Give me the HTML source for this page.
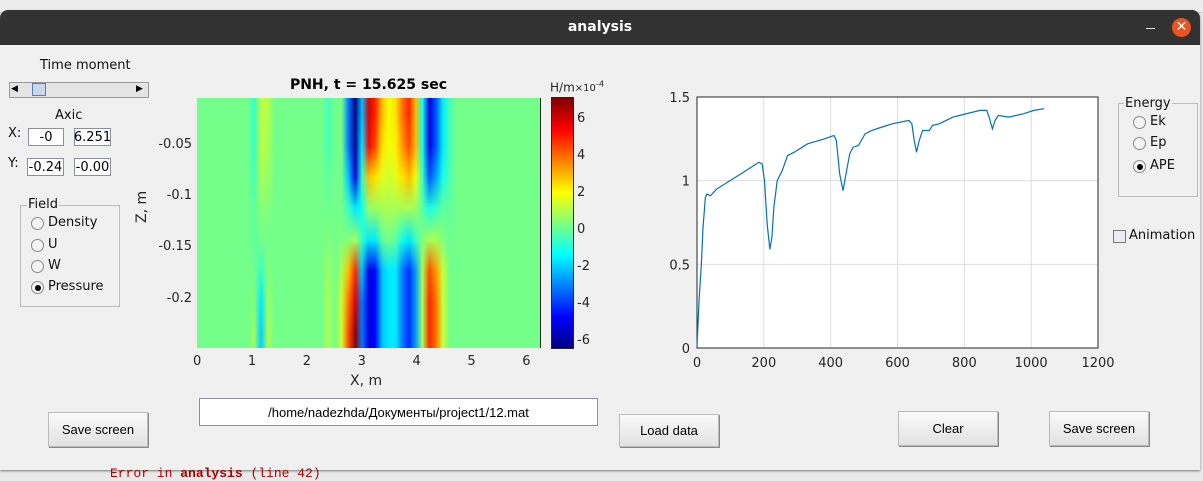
<!DOCTYPE html>
<html><head><meta charset="utf-8">
<style>
body{margin:0;width:1203px;height:476px;overflow:hidden;background:#e9e9e9;font-family:"DejaVu Sans","Liberation Sans",sans-serif;position:relative}
.a{position:absolute}
.t{font-size:13px;color:#111;white-space:nowrap}
.btn{position:absolute;background:linear-gradient(#fafafa,#e2e2e2);border:1px solid #bbb;box-shadow:1px 1px 0 #888;font-size:13px;display:flex;align-items:center;justify-content:center;font-family:"Liberation Sans",sans-serif}
.edit{position:absolute;background:#fff;border:1px solid #8a8ea8;font-size:13px;display:flex;align-items:center;justify-content:center;box-sizing:border-box}
.radio{position:absolute;width:11px;height:11px;border:1px solid #888;border-radius:50%;background:#f4f4f4}
.radio.on::after{content:"";position:absolute;left:2.5px;top:2.5px;width:6px;height:6px;border-radius:50%;background:#000}
.tick{font-size:13px;color:#262626;position:absolute;white-space:nowrap}
</style></head><body>
<div class="a" style="left:0;top:0;width:1203px;height:12px;background:#ececec;border-bottom:1px solid #ccc"></div>
<div class="a" style="left:0;top:10px;width:1200px;height:460px;background:#f0f0f0;border-radius:8px 8px 0 0;overflow:hidden;box-shadow:0 1px 2px #777">
 <div class="a" style="left:0;top:0;width:1200px;height:35px;background:#323232"></div>
 <div class="a" style="left:0;top:9px;width:1200px;text-align:center;color:#fff;font-weight:bold;font-size:14px">analysis</div>
 <div class="a" style="left:1146px;top:18px;width:9px;height:1px;background:#ddd"></div>
 <div class="a" style="left:1172px;top:8px;width:19px;height:19px;border-radius:50%;background:#e95420;color:#fff;font-size:14px;line-height:19px;text-align:center">✕</div>
</div>
<div class="a" style="left:110px;top:466px;color:#a00;font-family:'Liberation Mono',monospace;font-size:13px">Error in <b>analysis</b> (line 42)</div>

<div class="a t" style="left:40px;top:58px">Time moment</div>
<div class="a" style="left:9px;top:82px;width:138px;height:14px;background:#e4e4e4;border:1px solid #999">
 <div class="a" style="left:1px;top:1px;width:10px;height:10px;font-size:9px;line-height:10px">◀</div>
 <div class="a" style="left:22px;top:0;width:14px;height:13px;background:#c9d6ee;border:1px solid #5a7bbd;box-sizing:border-box"></div>
 <div class="a" style="left:126px;top:1px;width:10px;height:10px;font-size:9px;line-height:10px">▶</div>
</div>
<div class="a t" style="left:55px;top:108px">Axic</div>
<div class="a t" style="left:8px;top:126px">X:</div>
<div class="edit" style="left:28px;top:128px;width:36px;height:18px">-0</div>
<div class="edit" style="left:74px;top:128px;width:37px;height:18px">6.251</div>
<div class="a t" style="left:8px;top:156px">Y:</div>
<div class="edit" style="left:27px;top:158px;width:37px;height:18px">-0.24</div>
<div class="edit" style="left:74px;top:158px;width:37px;height:18px">-0.00</div>
<div class="a" style="left:20px;top:205px;width:98px;height:100px;border:1px solid #bbb"></div>
<div class="a t" style="left:27px;top:197px;background:#f0f0f0;padding:0 1px">Field</div>
<div class="radio" style="left:31px;top:217px"></div><div class="a t" style="left:48px;top:215px">Density</div>
<div class="radio" style="left:31px;top:239px"></div><div class="a t" style="left:48px;top:237px">U</div>
<div class="radio" style="left:31px;top:260px"></div><div class="a t" style="left:48px;top:258px">W</div>
<div class="radio on" style="left:31px;top:281px"></div><div class="a t" style="left:48px;top:279px">Pressure</div>

<div class="a" style="left:197px;top:77px;width:343px;text-align:center;font-weight:bold;font-size:14px;color:#000">PNH, t = 15.625 sec</div>
<canvas id="hm" class="a" width="343" height="250" style="left:197px;top:98px"></canvas>
<div class="a" style="left:540px;top:98px;width:1px;height:250px;background:#262626"></div>
<div id="hmticks"></div>
<div class="a" style="left:350px;top:373px;font-size:14px;color:#262626">X, m</div>
<div class="a" style="left:134px;top:223px;font-size:14px;color:#262626;transform:rotate(-90deg);transform-origin:left top;white-space:nowrap">Z, m</div>
<canvas id="cb" class="a" width="21" height="250" style="left:552px;top:98px;outline:1px solid #262626"></canvas>
<div class="a" style="left:550px;top:79px;font-size:12px;color:#262626">H/m<span style="font-size:10px">×10<sup>-4</sup></span></div>
<div id="cbticks"></div>

<svg class="a" id="ch" style="left:640px;top:85px" width="480" height="290"></svg>

<div class="a" style="left:1118px;top:103px;width:78px;height:92px;border:1px solid #bbb"></div>
<div class="a t" style="left:1124px;top:96px;background:#f0f0f0;padding:0 1px">Energy</div>
<div class="radio" style="left:1133px;top:116px"></div><div class="a t" style="left:1150px;top:114px">Ek</div>
<div class="radio" style="left:1133px;top:137px"></div><div class="a t" style="left:1150px;top:135px">Ep</div>
<div class="radio on" style="left:1133px;top:160px"></div><div class="a t" style="left:1150px;top:158px">APE</div>
<div class="a" style="left:1113px;top:230px;width:11px;height:11px;border:1px solid #777;background:#ebebf3"></div>
<div class="a t" style="left:1129px;top:228px">Animation</div>

<div class="btn" style="left:48px;top:412px;width:98px;height:33px">Save screen</div>
<div class="edit" style="left:199px;top:398px;width:399px;height:28px;font-family:'Liberation Sans',sans-serif">/home/nadezhda/Документы/project1/12.mat</div>
<div class="btn" style="left:619px;top:414px;width:98px;height:31px">Load data</div>
<div class="btn" style="left:898px;top:411px;width:98px;height:33px">Clear</div>
<div class="btn" style="left:1049px;top:411px;width:98px;height:33px">Save screen</div>

<script>
// ---- heatmap data ----
const hmXTicks=[0,1,2,3,4,5,6];
const hmZTicks=[-0.05,-0.1,-0.15,-0.2];
const cbTicks=[6,4,2,0,-2,-4,-6];
const hmBase=0.3;
const hmCols=[8,9,10,19,21,22,23,24,25,26,27,28,29,30,31,32,33,34,35,36,37];
const hmColValues=[
[-0.5,-0.5,-0.3,0,0,0.3,0.5,0.8],
[1.2,1.2,1,0.6,0.3,-0.5,-1.5,-1.8],
[1.2,1,0.8,0.5,0.3,0.5,0.8,1],
[-0.3,-0.3,0,0.2,0.5,0.8,1,1],
[0.3,0.3,0.3,0.3,0.5,1,1.5,1.5],
[-3,-3,-2,-0.5,0.5,3,4,4.5],
[-6.3,-6,-5,-1.5,1,5,6,7],
[-2,-1.5,-0.5,-1,-0.5,-2,-3,-3],
[6,5.5,3,0.8,-1.5,-5,-5,-5],
[5,4.5,2.5,0.8,-1.5,-4.5,-4.5,-4.5],
[3,2.5,1.8,1,0,-2,-2,-2],
[2,2,1.5,1,0.3,-1.5,-1.5,-1.5],
[2.5,2.3,1.8,1,0,-1.5,-1.5,-1.5],
[4,3.5,2.5,1,-1,-3,-3,-3],
[5,4.5,3,1,-1.5,-4,-4,-4],
[3,3,2,0.8,-0.5,-2.5,-2.5,-2.5],
[-1,-1,-0.5,0,0.5,1,1,1],
[-5,-5,-3.5,-1,1,4.5,5,5],
[-3.5,-3.5,-2.5,-0.5,1,3.5,4,4],
[-1.5,-1.5,-1,0,0.5,1.5,1.5,1.5],
[-0.3,-0.3,-0.2,0,0.2,0.3,0.3,0.3]];
const NC=51,NR=8,VMIN=-6.3,VMAX=7.2;
// ---- energy data ----
const eX=[0,6,13,18,25,30,40,59,99,139,185,195,202,210,218,224,230,240,255,271,291,331,382,410,417,427,437,444,457,467,483,503,523,553,584,634,643,650,657,665,675,695,705,725,766,806,847,867,874,884,892,902,933,978,1008,1039];
const eY=[0.01,0.28,0.5,0.72,0.9,0.92,0.91,0.95,1.0,1.05,1.11,1.10,1.0,0.74,0.59,0.66,0.84,1.0,1.06,1.15,1.17,1.22,1.25,1.27,1.24,1.04,0.94,1.02,1.16,1.2,1.21,1.28,1.30,1.32,1.34,1.36,1.34,1.24,1.17,1.24,1.30,1.30,1.33,1.34,1.38,1.40,1.42,1.42,1.38,1.31,1.36,1.39,1.38,1.40,1.42,1.43];
const eXTicks=[0,200,400,600,800,1000,1200];
const eYTicks=[0,0.5,1,1.5];

function jet(t){t=Math.max(0,Math.min(1,t));
 const f=x=>Math.max(0,Math.min(1,1.5-Math.abs(4*t-x)));
 return [f(3),f(2),f(1)].map(v=>Math.round(v*255));}
// heatmap
const hx=m=>197+m/6.25*343, hz=z=>98+(z+0.0035)/(-0.247+0.0035)*250;
const small=document.createElement('canvas');small.width=NC;small.height=NR;
const sc=small.getContext('2d');const img=sc.createImageData(NC,NR);
for(let c=0;c<NC;c++){const k=hmCols.indexOf(c);
 for(let r=0;r<NR;r++){const v=k>=0?hmColValues[k][r]:hmBase;
  const col=jet((v-VMIN)/(VMAX-VMIN));const i=(r*NC+c)*4;
  img.data[i]=col[0];img.data[i+1]=col[1];img.data[i+2]=col[2];img.data[i+3]=255;}}
sc.putImageData(img,0,0);
const hc=document.getElementById('hm').getContext('2d');hc.imageSmoothingEnabled=true;
hc.drawImage(small,0,0,343,250);
const cb=document.getElementById('cb').getContext('2d');
for(let y=0;y<250;y++){const v=VMAX-(y/250)*(VMAX-VMIN);const c=jet((v-VMIN)/(VMAX-VMIN));cb.fillStyle=`rgb(${c})`;cb.fillRect(0,y,21,1);}
const T=document.getElementById('hmticks');
hmXTicks.forEach(v=>{const d=document.createElement('div');d.className='tick';
 
 
 d.textContent=v;d.style.left=(hx(v)-4)+'px';d.style.top='354px';T.appendChild(d);});
hmZTicks.forEach(v=>{const d=document.createElement('div');d.className='tick';
 
 
 d.textContent=v;d.style.right=(1203-192)+'px';d.style.top=(hz(v)-9)+'px';T.appendChild(d);});
const CT=document.getElementById('cbticks');
cbTicks.forEach(v=>{const d=document.createElement('div');d.className='tick';
 
 
 d.textContent=v;d.style.left='577px';d.style.top=(98+(VMAX-v)/(VMAX-VMIN)*250-9)+'px';CT.appendChild(d);});
// energy chart
const svg=document.getElementById('ch'),NS='http://www.w3.org/2000/svg';
const X0=57,Y0=12,W=401,H=251;
const sx=v=>X0+v/1200*W, sy=v=>Y0+H-v/1.5*H;
function el(t,a){const e=document.createElementNS(NS,t);for(const k in a)e.setAttribute(k,a[k]);svg.appendChild(e);return e;}
const bg=el('rect',{x:X0,y:Y0,width:W,height:H,fill:'#fff'});


eXTicks.forEach(v=>{const g=el('line',{x1:sx(v),x2:sx(v),y1:Y0,y2:Y0+H,stroke:'#dcdcdc'});
 
 
 const t=el('text',{x:sx(v),y:Y0+H+19,'text-anchor':'middle','font-size':13,fill:'#262626','font-family':'DejaVu Sans,sans-serif'});t.textContent=v;
 
 });
eYTicks.forEach(v=>{const g=el('line',{x1:X0,x2:X0+W,y1:sy(v),y2:sy(v),stroke:'#dcdcdc'});
 
 
 const t=el('text',{x:X0-7,y:sy(v)+5,'text-anchor':'end','font-size':13,fill:'#262626','font-family':'DejaVu Sans,sans-serif'});t.textContent=v;
 
 });
const fr=el('rect',{x:X0,y:Y0,width:W,height:H,fill:'none',stroke:'#262626'});


const line=el('polyline',{points:eX.map((x,i)=>sx(x)+','+sy(eY[i])).join(' '),fill:'none',stroke:'#0072bd','stroke-width':1.2});


</script>
</body></html>
